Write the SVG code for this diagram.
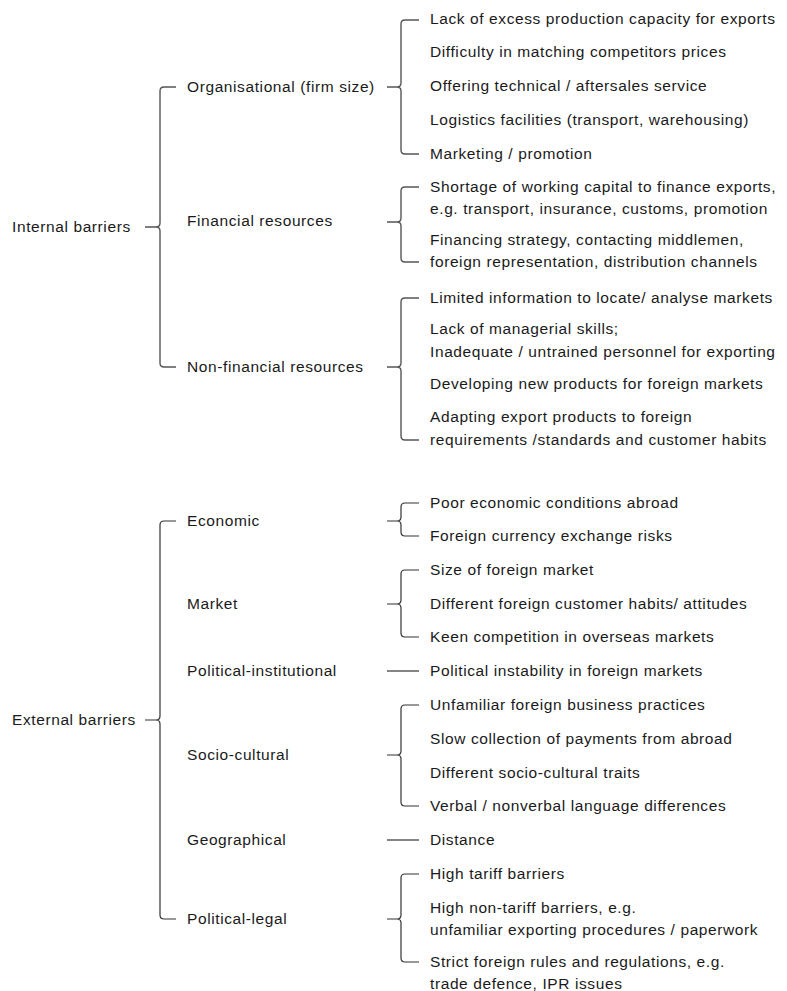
<svg xmlns="http://www.w3.org/2000/svg" width="787" height="991" viewBox="0 0 787 991">
<style>
text{font-family:"Liberation Sans",Arial,sans-serif;font-size:15.5px;letter-spacing:0.6px;fill:#1a1a1a}
.br{fill:none;stroke:#555;stroke-width:1.4}
.bx{fill:none;stroke:#333;stroke-width:1.2}
</style>
<rect width="787" height="991" fill="#fff"/>
<g id="connectors">
<path class="br" d="M176,87 H164 Q160,87 160,91 V223 Q160,227 156,227 H145 M156,227 Q160,227 160,231 V363 Q160,367 164,367 H176"/>
<path class="bx" d="M176,521 H164 Q160,521 160,525 V716 Q160,720 156,720 H145 M156,720 Q160,720 160,724 V915 Q160,919 164,919 H176"/>
<path class="br" d="M419,20 H405 Q401,20 401,24 V83 Q401,87 397,87 H387 M397,87 Q401,87 401,91 V150 Q401,154 405,154 H419"/>
<path class="br" d="M419,187 H405 Q401,187 401,191 V218 Q401,222 397,222 H387 M397,222 Q401,222 401,226 V258 Q401,262 405,262 H419"/>
<path class="br" d="M419,298 H405 Q401,298 401,302 V363 Q401,367 397,367 H387 M397,367 Q401,367 401,371 V436 Q401,440 405,440 H419"/>
<path class="bx" d="M419,503 H405 Q401,503 401,507 V517 Q401,521 397,521 H387 M397,521 Q401,521 401,525 V532 Q401,536 405,536 H419"/>
<path class="bx" d="M419,570 H405 Q401,570 401,574 V600 Q401,604 397,604 H387 M397,604 Q401,604 401,608 V633 Q401,637 405,637 H419"/>
<path class="bx" d="M387,671 H419"/>
<path class="bx" d="M419,705 H405 Q401,705 401,709 V751 Q401,755 397,755 H387 M397,755 Q401,755 401,759 V802 Q401,806 405,806 H419"/>
<path class="bx" d="M387,840 H419"/>
<path class="bx" d="M419,874 H405 Q401,874 401,878 V915 Q401,919 397,919 H387 M397,919 Q401,919 401,923 V958 Q401,962 405,962 H419"/>
</g>
<g id="internal"><text x="12" y="232">Internal barriers</text></g>
<g id="external"><text x="12" y="725">External barriers</text></g>
<g id="organisational"><text x="187" y="92">Organisational (firm size)</text></g>
<g id="financial"><text x="187" y="226">Financial resources</text></g>
<g id="nonfinancial"><text x="187" y="372">Non-financial resources</text></g>
<g id="economic"><text x="187" y="526">Economic</text></g>
<g id="market"><text x="187" y="609">Market</text></g>
<g id="political-institutional"><text x="187" y="676">Political-institutional</text></g>
<g id="socio-cultural"><text x="187" y="760">Socio-cultural</text></g>
<g id="geographical"><text x="187" y="845">Geographical</text></g>
<g id="political-legal"><text x="187" y="924">Political-legal</text></g>
<g id="org-items">
<text x="430" y="24">Lack of excess production capacity for exports</text>
<text x="430" y="57">Difficulty in matching competitors prices</text>
<text x="430" y="91">Offering technical / aftersales service</text>
<text x="430" y="125">Logistics facilities (transport, warehousing)</text>
<text x="430" y="159">Marketing / promotion</text>
</g>
<g id="fin-items">
<text x="430" y="192">Shortage of working capital to finance exports,</text>
<text x="430" y="214">e.g. transport, insurance, customs, promotion</text>
<text x="430" y="245">Financing strategy, contacting middlemen,</text>
<text x="430" y="267">foreign representation, distribution channels</text>
</g>
<g id="nonfin-items">
<text x="430" y="303">Limited information to locate/ analyse markets</text>
<text x="430" y="334">Lack of managerial skills;</text>
<text x="430" y="357">Inadequate / untrained  personnel for exporting</text>
<text x="430" y="389">Developing new products for foreign markets</text>
<text x="430" y="422">Adapting export products to foreign</text>
<text x="430" y="445">requirements /standards and customer habits</text>
</g>
<g id="econ-items">
<text x="430" y="508">Poor economic conditions abroad</text>
<text x="430" y="541">Foreign currency exchange risks</text>
</g>
<g id="market-items">
<text x="430" y="575">Size of foreign market</text>
<text x="430" y="609">Different foreign customer habits/ attitudes</text>
<text x="430" y="642">Keen competition in overseas markets</text>
</g>
<g id="polinst-items">
<text x="430" y="676">Political instability in foreign markets</text>
</g>
<g id="socio-items">
<text x="430" y="710">Unfamiliar foreign business practices</text>
<text x="430" y="744">Slow collection of payments from abroad</text>
<text x="430" y="778">Different socio-cultural traits</text>
<text x="430" y="811">Verbal / nonverbal language differences</text>
</g>
<g id="geo-items">
<text x="430" y="845">Distance</text>
</g>
<g id="pollegal-items">
<text x="430" y="879">High tariff barriers</text>
<text x="430" y="913">High non-tariff barriers, e.g.</text>
<text x="430" y="935">unfamiliar exporting procedures / paperwork</text>
<text x="430" y="967">Strict foreign rules and regulations, e.g.</text>
<text x="430" y="989">trade defence, IPR issues</text>
</g>
</svg>
